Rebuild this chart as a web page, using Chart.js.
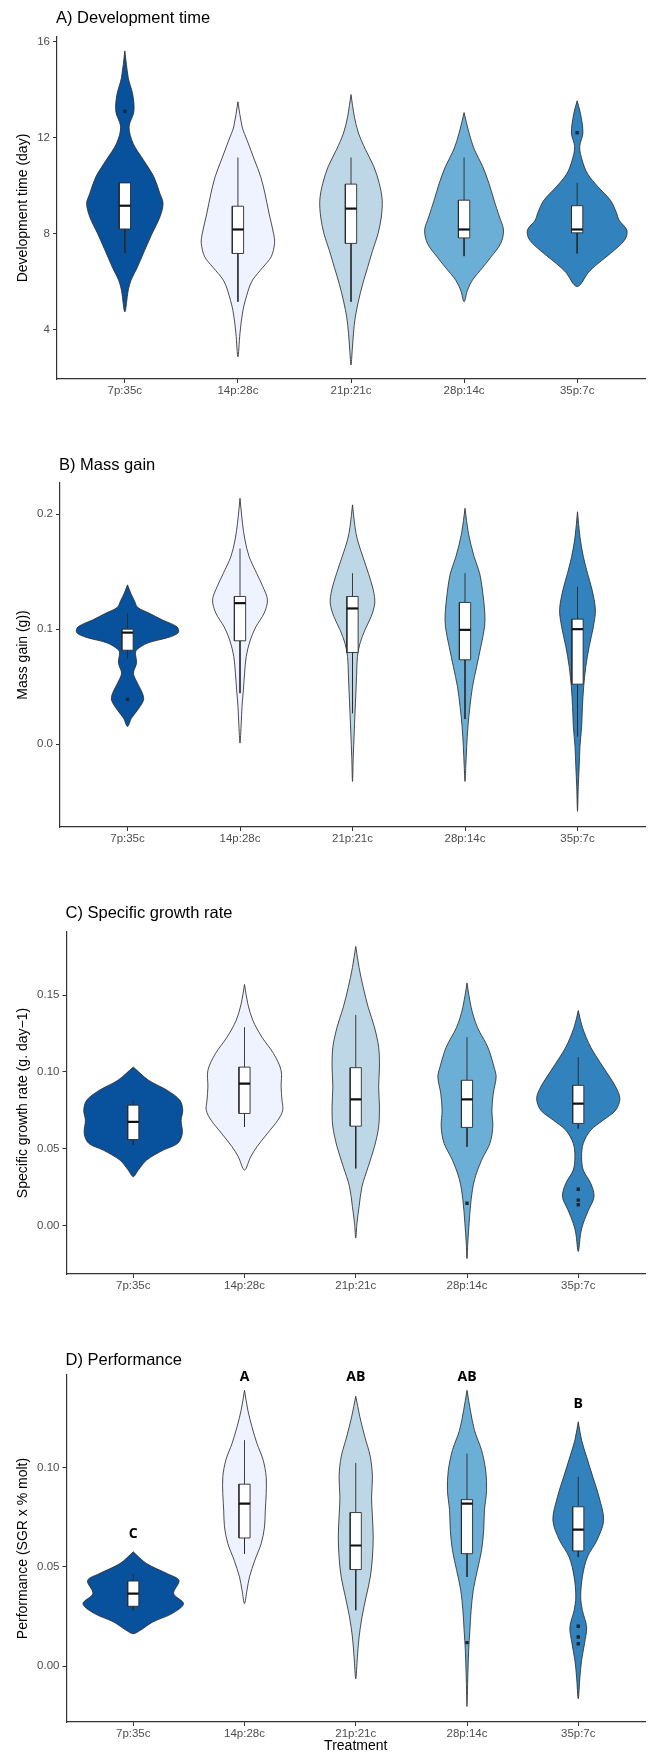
<!DOCTYPE html>
<html><head><meta charset="utf-8">
<script src="https://cdn.jsdelivr.net/npm/chart.js@4.4.1/dist/chart.umd.min.js"></script>
<style>
html,body{margin:0;padding:0;background:#fff;width:652px;height:1752px;overflow:hidden;}
.panel{position:absolute;left:0;width:652px;}
canvas{display:block;}
</style></head><body>
<div class="panel" style="top:0px;height:440px"><canvas id="cA" width="652" height="440"></canvas></div>
<div class="panel" style="top:440px;height:440px"><canvas id="cB" width="652" height="440"></canvas></div>
<div class="panel" style="top:880px;height:430px"><canvas id="cC" width="652" height="430"></canvas></div>
<div class="panel" style="top:1310px;height:452px"><canvas id="cD" width="652" height="452"></canvas></div>
<script>
// ---------- DATA ----------
const categories = ['7p:35c', '14p:28c', '21p:21c', '28p:14c', '35p:7c'];
const fillColors = ['#08519c', '#eff3ff', '#bdd7e7', '#6baed6', '#3182bd'];

// violin profiles: [value, half-width (category units)], top to bottom
const devViolins = [
  [[15.62,0],[14.5,0.03],[13.8,0.07],[13.1,0.08],[12.45,0.037],[11.76,0.074],[11.07,0.165],[10.37,0.257],[9.68,0.31],[9.26,0.338],[8.7,0.31],[8.0,0.24],[7.32,0.176],[6.6,0.11],[6.07,0.055],[5.65,0.03],[4.75,0]],
  [[13.5,0],[12.46,0.037],[11.9,0.081],[11.07,0.147],[10.37,0.202],[9.68,0.239],[8.83,0.276],[8.0,0.316],[7.6,0.324],[7.04,0.294],[6.6,0.22],[6.07,0.129],[5.65,0.092],[4.8,0.044],[3.85,0.018],[2.87,0]],
  [[13.8,0],[12.9,0.029],[12.2,0.066],[11.5,0.129],[10.8,0.202],[10.1,0.25],[9.4,0.276],[8.7,0.268],[8.0,0.239],[7.3,0.191],[6.6,0.147],[5.9,0.103],[5.2,0.066],[4.5,0.037],[3.85,0.022],[3.15,0.011],[2.53,0]],
  [[13.05,0],[12.2,0.044],[11.5,0.092],[10.8,0.165],[10.1,0.22],[9.4,0.265],[8.7,0.313],[8.15,0.349],[7.6,0.324],[7.04,0.239],[6.6,0.165],[6.07,0.074],[5.65,0.03],[5.17,0]],
  [[13.54,0],[13.0,0.03],[12.2,0.051],[11.63,0.022],[11.07,0.044],[10.5,0.092],[9.96,0.184],[9.4,0.294],[8.85,0.35],[8.57,0.37],[8.15,0.44],[7.74,0.42],[7.18,0.294],[6.76,0.184],[6.35,0.092],[5.93,0.037],[5.8,0]]
];
const massViolins = [
  [[0.1385,0],[0.131,0.03],[0.125,0.06],[0.119,0.09],[0.114,0.19],[0.108,0.31],[0.102,0.44],[0.097,0.452],[0.093,0.37],[0.088,0.18],[0.082,0.08],[0.0791,0.071],[0.0704,0.08],[0.0617,0.053],[0.053,0.089],[0.0443,0.133],[0.0383,0.142],[0.0296,0.089],[0.0226,0.035],[0.0155,0]],
  [[0.2137,0],[0.192,0.022],[0.1776,0.044],[0.163,0.081],[0.1486,0.148],[0.137,0.203],[0.1255,0.244],[0.114,0.215],[0.102,0.141],[0.0907,0.092],[0.0763,0.055],[0.0618,0.041],[0.0473,0.03],[0.0328,0.018],[0.0184,0.011],[0.001,0]],
  [[0.208,0],[0.189,0.022],[0.1776,0.044],[0.163,0.092],[0.1486,0.141],[0.134,0.185],[0.1226,0.198],[0.111,0.166],[0.0994,0.111],[0.0878,0.067],[0.0763,0.044],[0.0618,0.037],[0.0444,0.03],[0.027,0.022],[0.0097,0.015],[-0.0106,0.007],[-0.0323,0]],
  [[0.205,0],[0.1834,0.03],[0.163,0.081],[0.1486,0.13],[0.134,0.155],[0.114,0.176],[0.102,0.174],[0.085,0.141],[0.0676,0.104],[0.0502,0.067],[0.0328,0.044],[0.0155,0.026],[-0.0019,0.015],[-0.0192,0.007],[-0.0323,0]],
  [[0.202,0],[0.18,0.022],[0.163,0.052],[0.1486,0.089],[0.134,0.13],[0.1168,0.159],[0.102,0.141],[0.085,0.104],[0.0676,0.074],[0.0502,0.055],[0.0328,0.044],[0.0155,0.037],[-0.0019,0.022],[-0.0192,0.015],[-0.0366,0.007],[-0.0583,0]]
];
const sgrViolins = [
  [[0.1032,0],[0.0946,0.138],[0.088,0.307],[0.0816,0.419],[0.0751,0.445],[0.0686,0.43],[0.06,0.441],[0.0535,0.4],[0.0491,0.27],[0.0426,0.12],[0.0361,0.045],[0.0318,0]],
  [[0.157,0],[0.1444,0.03],[0.1336,0.075],[0.1227,0.157],[0.1119,0.262],[0.1011,0.329],[0.0903,0.329],[0.0816,0.337],[0.0751,0.344],[0.0686,0.3],[0.06,0.206],[0.0513,0.112],[0.0448,0.056],[0.0361,0]],
  [[0.1818,0],[0.168,0.03],[0.1552,0.067],[0.1422,0.112],[0.1292,0.168],[0.1162,0.206],[0.1032,0.213],[0.0903,0.206],[0.0773,0.213],[0.0643,0.206],[0.0513,0.168],[0.0383,0.112],[0.0253,0.056],[0.0123,0.03],[0.0015,0.011],[-0.0082,0]],
  [[0.158,0],[0.1422,0.037],[0.1292,0.093],[0.1162,0.187],[0.1032,0.243],[0.0968,0.262],[0.086,0.236],[0.0751,0.224],[0.0643,0.232],[0.0535,0.206],[0.0426,0.131],[0.0297,0.067],[0.0167,0.037],[0.0015,0.019],[-0.0115,0.007],[-0.0216,0]],
  [[0.14,0],[0.1292,0.037],[0.1162,0.112],[0.1032,0.224],[0.0903,0.337],[0.0827,0.374],[0.0751,0.337],[0.0686,0.224],[0.0621,0.112],[0.0535,0.045],[0.0448,0.03],[0.0361,0.045],[0.0275,0.112],[0.0188,0.142],[0.0102,0.093],[0.0015,0.045],[-0.005,0.022],[-0.0169,0]]
];
const perfViolins = [
  [[0.0576,0],[0.0517,0.12],[0.0466,0.307],[0.0432,0.411],[0.0366,0.363],[0.0315,0.452],[0.0265,0.348],[0.0223,0.176],[0.0181,0.064],[0.0164,0]],
  [[0.139,0],[0.129,0.03],[0.1206,0.067],[0.1122,0.112],[0.1038,0.168],[0.0954,0.195],[0.087,0.195],[0.0786,0.187],[0.0702,0.18],[0.0618,0.15],[0.0534,0.093],[0.045,0.045],[0.0382,0.022],[0.0315,0]],
  [[0.136,0],[0.1256,0.037],[0.1155,0.082],[0.1055,0.131],[0.0954,0.15],[0.0853,0.142],[0.0752,0.15],[0.0651,0.157],[0.055,0.15],[0.045,0.131],[0.0349,0.093],[0.0248,0.056],[0.0147,0.03],[0.0047,0.015],[-0.0063,0]],
  [[0.139,0],[0.129,0.03],[0.1189,0.067],[0.1088,0.131],[0.0987,0.168],[0.0887,0.176],[0.0786,0.157],[0.0685,0.15],[0.0584,0.131],[0.0483,0.093],[0.0382,0.056],[0.0282,0.037],[0.0181,0.026],[0.0081,0.015],[-0.0055,0.007],[-0.0203,0]],
  [[0.1231,0],[0.1139,0.03],[0.1055,0.075],[0.0954,0.131],[0.0853,0.187],[0.0735,0.228],[0.0634,0.168],[0.055,0.082],[0.045,0.037],[0.0349,0.022],[0.0282,0.037],[0.0197,0.075],[0.0113,0.056],[0.0029,0.03],[-0.0055,0.015],[-0.0164,0]]
];

// box stats: [lower whisker, Q1, median, Q3, upper whisker]
const devBoxes  = [[7.2,8.2,9.17,10.12,10.12],[5.17,7.18,8.18,9.15,11.18],[5.17,7.6,9.05,10.07,11.18],[7.07,7.83,8.18,9.4,11.18],[7.18,8.04,8.18,9.17,10.12]];
const massBoxes = [[0.0747,0.0817,0.097,0.1,0.114],[0.0444,0.0899,0.1226,0.1284,0.170],[0.027,0.0797,0.118,0.1284,0.1486],[0.0219,0.0734,0.0994,0.1232,0.1486],[0.0068,0.0522,0.1,0.1087,0.137]];
const sgrBoxes  = [[0.0524,0.056,0.0675,0.0784,0.0816],[0.0643,0.073,0.0924,0.1032,0.1292],[0.0372,0.0647,0.0822,0.1028,0.1372],[0.0513,0.0639,0.0822,0.0946,0.1227],[0.0632,0.0665,0.0794,0.0913,0.1097]];
const perfBoxes = [[0.0282,0.0302,0.0366,0.0429,0.0466],[0.0567,0.0646,0.0819,0.0917,0.1139],[0.0282,0.0487,0.0608,0.0774,0.1024],[0.045,0.0567,0.0819,0.0839,0.1071],[0.055,0.0581,0.0688,0.0803,0.0954]];

// outliers
const devOutliers  = [[13.1],[],[],[],[12.21]];
const massOutliers = [[0.039],[],[],[],[]];
const sgrOutliers  = [[],[],[],[0.0145],[0.0236,0.0165,0.0135]];
const perfOutliers = [[],[],[],[0.0119],[0.0201,0.0147,0.0113]];

// tick values and labels
const devTicks = [4, 8, 12, 16];          const devTickLabels = ['4', '8', '12', '16'];
const massTicks = [0, 0.1, 0.2];          const massTickLabels = ['0.0', '0.1', '0.2'];
const sgrTicks = [0, 0.05, 0.1, 0.15];    const sgrTickLabels = ['0.00', '0.05', '0.10', '0.15'];
const perfTicks = [0, 0.05, 0.1];         const perfTickLabels = ['0.00', '0.05', '0.10'];

// significance letters (Performance) and the value level they sit at
const perfLetters = ['C', 'A', 'AB', 'AB', 'B'];
const perfLetterLevels = [0.0665, 0.1458, 0.1458, 0.1458, 0.132];

// ---------- BUILD ----------
const BOX_HALF = 0.05;
const FONT = "'Liberation Sans', Arial, sans-serif";

function violinPath(center, profile) {
  const right = profile.map(([v, w]) => ({x: center + w, y: v}));
  const left = profile.slice().reverse().map(([v, w]) => ({x: center - w, y: v}));
  return right.concat(left.slice(1));
}

function buildDatasets(violins, boxes, outliers) {
  const ds = [];
  violins.forEach((prof, i) => {
    ds.push({data: violinPath(i + 1, prof), order: 5, fill: 'shape', tension: 0.32,
      backgroundColor: fillColors[i], borderColor: '#2e2e2e', borderWidth: 0.85, pointRadius: 0});
  });
  boxes.forEach((b, i) => {
    const c = i + 1;
    const [lo, q1, med, q3, hi] = b;
    ds.push({data: [{x: c, y: q3}, {x: c, y: hi}], order: 4, borderColor: '#2a2a2a', borderWidth: 0.9, pointRadius: 0, fill: false});
    ds.push({data: [{x: c, y: q1}, {x: c, y: lo}], order: 4, borderColor: '#2a2a2a', borderWidth: 0.9, pointRadius: 0, fill: false});
    ds.push({data: [{x: c - BOX_HALF, y: q1}, {x: c + BOX_HALF, y: q1}, {x: c + BOX_HALF, y: q3}, {x: c - BOX_HALF, y: q3}, {x: c - BOX_HALF, y: q1}],
      order: 3, fill: 'shape', tension: 0, backgroundColor: '#ffffff', borderColor: '#2a2a2a', borderWidth: 0.9, pointRadius: 0});
    ds.push({data: [{x: c - BOX_HALF, y: med}, {x: c + BOX_HALF, y: med}], order: 2, borderColor: '#111', borderWidth: 2.2, pointRadius: 0, fill: false});
  });
  const pts = [];
  outliers.forEach((arr, i) => arr.forEach(v => pts.push({x: i + 1, y: v})));
  ds.push({data: pts, order: 1, showLine: false, pointRadius: 2.4, pointStyle: 'rect',
    pointBackgroundColor: '#1b2836', pointBorderColor: '#1b2836', pointBorderWidth: 0});
  return ds;
}

const panelTitlePlugin = {
  id: 'panelTitle',
  afterDraw(chart, args, opts) {
    if (!opts || !opts.text) return;
    const {ctx, chartArea} = chart;
    ctx.save();
    ctx.font = '16.5px ' + FONT;
    ctx.fillStyle = '#000';
    ctx.textAlign = 'left';
    ctx.textBaseline = 'middle';
    ctx.fillText(opts.text, chartArea.left + (opts.dx || 0), chartArea.top - opts.dy);
    ctx.restore();
  }
};

const lettersPlugin = {
  id: 'letters',
  afterDatasetsDraw(chart, args, opts) {
    if (!opts || !opts.letters) return;
    const {ctx, scales} = chart;
    ctx.save();
    ctx.font = "bold 14px 'Open Sans', 'Liberation Sans', sans-serif";
    ctx.fillStyle = '#000';
    ctx.textAlign = 'center';
    ctx.textBaseline = 'middle';
    opts.letters.forEach((t, i) => {
      ctx.fillText(t, scales.x.getPixelForValue(i + 1), scales.y.getPixelForValue(opts.levels[i]));
    });
    ctx.restore();
  }
};

function makeChart(p) {
  return new Chart(document.getElementById(p.id), {
    type: 'line',
    data: {datasets: buildDatasets(p.violins, p.boxes, p.outliers)},
    plugins: [panelTitlePlugin, lettersPlugin],
    options: {
      responsive: false,
      animation: false,
      events: [],
      layout: {padding: {left: 0, right: 7, top: p.padTop, bottom: 0}},
      plugins: {
        legend: {display: false},
        tooltip: {enabled: false},
        title: {display: false},
        panelTitle: {text: p.title, dy: p.titleDy, dx: -1},
        letters: p.letters ? {letters: p.letters, levels: p.levels} : {}
      },
      scales: {
        x: {
          type: 'linear', min: 0.4, max: 5.6,
          afterBuildTicks: s => { s.ticks = categories.map((_, i) => ({value: i + 1})); },
          afterFit: s => { s.height = p.xHeight; },
          ticks: {autoSkip: false, maxRotation: 0, padding: 1, color: '#4d4d4d',
            font: {family: FONT, size: 11.5},
            callback: v => categories[Math.round(v) - 1]},
          grid: {display: true, drawOnChartArea: false, drawTicks: true, tickLength: 4, tickColor: '#333', lineWidth: 1},
          border: {display: true, color: '#333', width: 1.2},
          title: p.xTitle ? {display: true, text: p.xTitle, color: '#000', font: {family: FONT, size: 14}, padding: {top: 0, bottom: p.xTitlePad}} : {display: false}
        },
        y: {
          type: 'linear', min: p.yMin, max: p.yMax,
          afterBuildTicks: s => { s.ticks = p.ticks.map(v => ({value: v})); },
          afterFit: s => { s.width = p.yWidth; },
          ticks: {autoSkip: false, padding: 3, color: '#4d4d4d', font: {family: FONT, size: 11.5},
            callback: v => { const k = p.ticks.findIndex(t => Math.abs(t - v) < 1e-9); return k >= 0 ? p.tickLabels[k] : ''; }},
          grid: {display: true, drawOnChartArea: false, drawTicks: true, tickLength: 4, tickColor: '#333', lineWidth: 1},
          border: {display: true, color: '#333', width: 1.2},
          title: {display: true, text: p.yTitle, color: '#000', font: {family: FONT, size: 14}, padding: {top: 15, bottom: 0}}
        }
      }
    }
  });
}

makeChart({id: 'cA', violins: devViolins, boxes: devBoxes, outliers: devOutliers,
  yMin: 1.95, yMax: 16.2, ticks: devTicks, tickLabels: devTickLabels,
  yTitle: 'Development time (day)', title: 'A) Development time',
  padTop: 37, yWidth: 57, xHeight: 61, titleDy: 18.7});
makeChart({id: 'cB', violins: massViolins, boxes: massBoxes, outliers: massOutliers,
  yMin: -0.0719, yMax: 0.227, ticks: massTicks, tickLabels: massTickLabels,
  yTitle: 'Mass gain (g))', title: 'B) Mass gain',
  padTop: 43, yWidth: 60, xHeight: 53, titleDy: 18});
makeChart({id: 'cC', violins: sgrViolins, boxes: sgrBoxes, outliers: sgrOutliers,
  yMin: -0.0316, yMax: 0.1912, ticks: sgrTicks, tickLabels: sgrTickLabels,
  yTitle: 'Specific growth rate (g. day\u22121)', title: 'C) Specific growth rate',
  padTop: 52, yWidth: 66.5, xHeight: 36, titleDy: 19});
makeChart({id: 'cD', violins: perfViolins, boxes: perfBoxes, outliers: perfOutliers,
  yMin: -0.0281, yMax: 0.1467, ticks: perfTicks, tickLabels: perfTickLabels,
  yTitle: 'Performance (SGR x % molt)', title: 'D) Performance',
  padTop: 65, yWidth: 66.5, xHeight: 40, titleDy: 15,
  xTitle: 'Treatment', xTitlePad: 7,
  letters: perfLetters, levels: perfLetterLevels});
</script>
</body></html>
